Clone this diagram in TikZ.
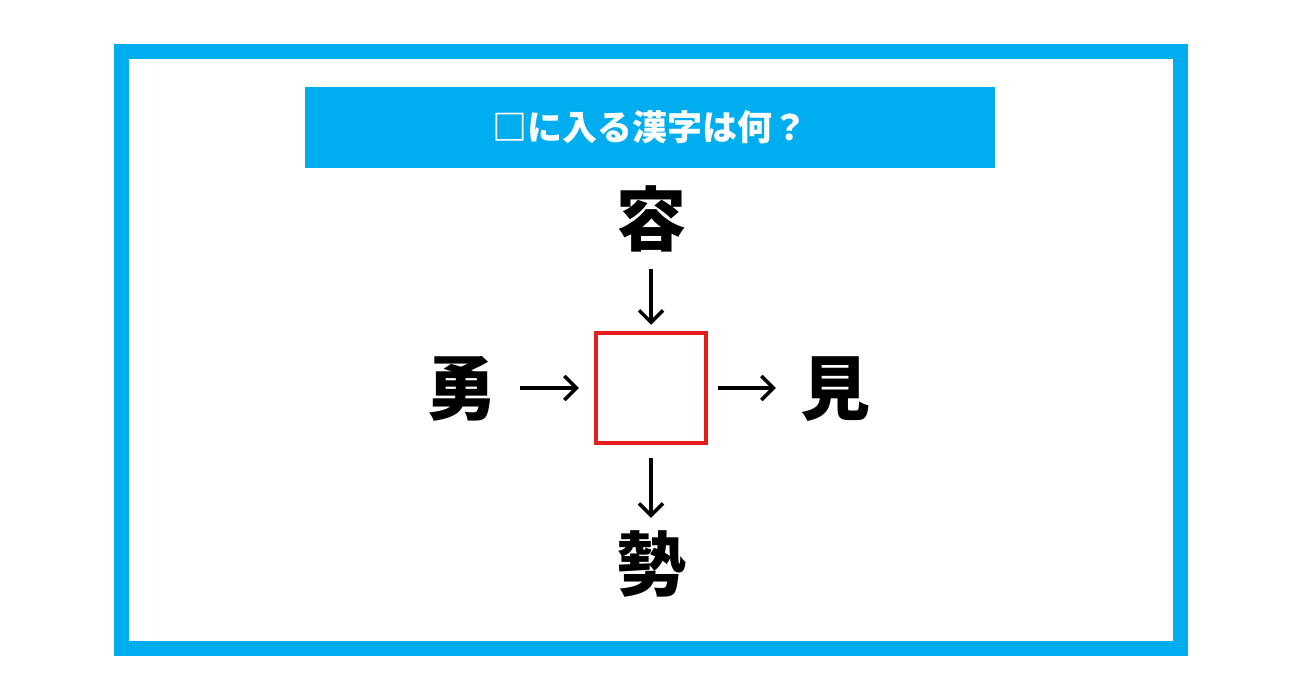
\documentclass[tikz,border=0pt]{standalone}
\usepackage{fontspec}
\newfontfamily\jp{Noto Sans CJK JP}
\usetikzlibrary{arrows.meta}
\definecolor{frameblue}{HTML}{00AEEF}
\definecolor{boxred}{HTML}{E41E1E}

\begin{document}
\begin{tikzpicture}[
  x=1pt, y=-1pt,
  >={Straight Barb[length=12pt, width=24pt]},
  kanji/.style={font=\jp\bfseries\fontsize{70}{70}\selectfont, inner sep=0pt,
                text height=61.6pt, text depth=8.4pt, minimum width=70pt},
  arrow/.style={->, line width=3.5pt}
]
  \useasboundingbox (0,0) rectangle (1299,682);
  \fill[white] (0,0) rectangle (1299,682);
  \draw[frameblue, line width=15pt] (121.5,51.5) rectangle (1180.5,648.5);

  \node[fill=frameblue, minimum width=690pt, minimum height=81pt, inner sep=0pt,
        text=white, font=\jp\bfseries\fontsize{35}{35}\selectfont]
        (title) at (650,127.5) {□に入る漢字は何？};

  \node[draw=boxred, line width=4.5pt, minimum size=110pt, inner sep=0pt] (blank) at (651,388) {};
  \node[kanji] (top) at (651,219) {容};
  \node[kanji] (left) at (461,388) {勇};
  \node[kanji] (right) at (835,388) {見};
  \node[kanji] (bottom) at (651,564) {勢};

  \draw[arrow, shorten <=15pt, shorten >=6pt] (top) -- (blank);
  \draw[arrow, shorten <=24pt, shorten >=15pt] (left) -- (blank);
  \draw[arrow, shorten <=10pt, shorten >=24pt] (blank) -- (right);
  \draw[arrow, shorten <=13pt, shorten >=11pt] (blank) -- (bottom);
\end{tikzpicture}
\end{document}
